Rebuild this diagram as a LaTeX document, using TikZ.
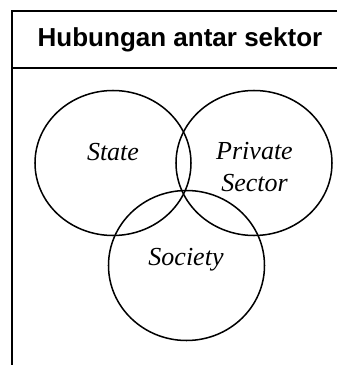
\documentclass[tikz,border=0pt]{standalone}
\usepackage{fontspec}
\setmainfont{Liberation Serif}
\newfontfamily\judulfont{Liberation Sans}

\begin{document}
\begin{tikzpicture}[
    x=0.4615pt, y=0.4615pt,
    every node/.style={inner sep=0pt},
    garis/.style={line width=0.7pt},
    sektor/.style={line width=0.7pt},
    nama sektor/.style={font=\itshape\fontsize{12}{14.4}\selectfont, anchor=base, align=center}
]
    \useasboundingbox (0,0) rectangle (337,365);

    % kotak tabel
    \draw[garis] (337,354) -- (12,354) -- (12,0);
    \draw[garis] (12,297) -- (337,297);
    \node[font=\judulfont\bfseries\fontsize{12}{14}\selectfont, anchor=base] (judul) at (180,318) {Hubungan antar sektor};

    % tiga sektor
    \draw[sektor] (113,202) ellipse (78 and 72.5);
    \draw[sektor] (254,202) ellipse (78 and 72.5);
    \draw[sektor] (186.5,99.5) ellipse (78 and 75);

    \node[nama sektor] (state) at (113,204) {State};
    \node[nama sektor] (private) at (254.5,173) {Private\\[0.5pt]Sector};
    \node[nama sektor] (society) at (186,100) {Society};
\end{tikzpicture}
\end{document}
